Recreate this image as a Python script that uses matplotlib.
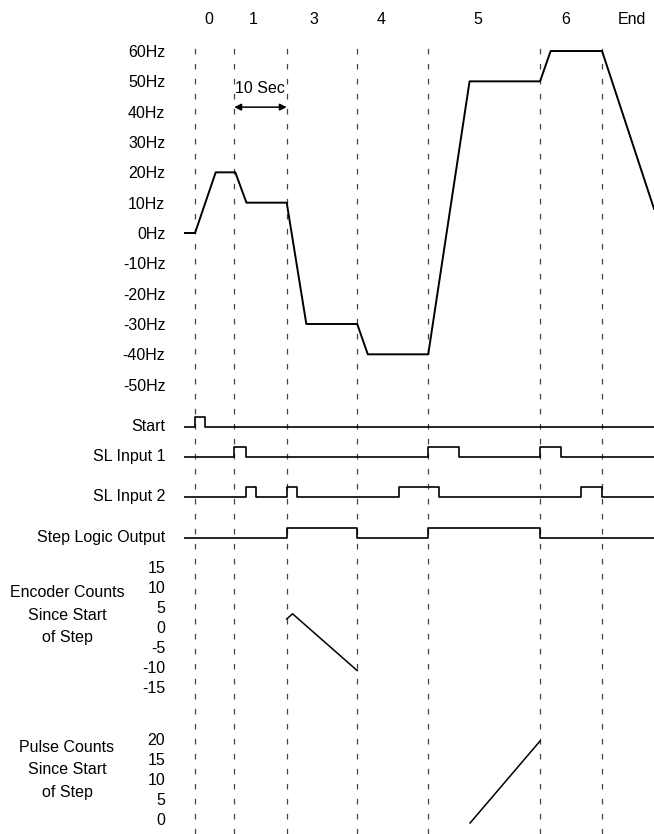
import numpy as np
import matplotlib
matplotlib.use("Agg")
import matplotlib.pyplot as plt

plt.rcParams['font.family'] = ['Liberation Sans Narrow', 'Liberation Sans', 'DejaVu Sans']
plt.rcParams['font.size'] = 11.5

# time in seconds, step boundaries
step_times = [0, 7.4, 17.3, 30.6, 44.0, 65.1, 76.8]
step_names = ['0', '1', '3', '4', '5', '6', 'End']
step_label_x = [2.6, 11.0, 22.5, 35.1, 53.4, 70.0, 82.5]

# commanded frequency
freq_t = [-2.1, 0, 3.9, 7.6, 9.7, 17.3, 21.0, 30.6, 32.6, 44.0, 51.8, 65.1, 67.1, 76.8, 86.6]
freq_hz = [0, 0, 20, 20, 10, 10, -30, -30, -40, -40, 50, 50, 60, 60, 8]
hz_ticks = [60, 50, 40, 30, 20, 10, 0, -10, -20, -30, -40, -50]

# digital signals: (on, off) intervals
sig_names = ['Start', 'SL Input 1', 'SL Input 2', 'Step Logic Output']
sig_pulses = [
    [(0, 1.9)],
    [(7.4, 9.6), (44.0, 49.9), (65.1, 69.0)],
    [(9.6, 11.5), (17.3, 19.2), (38.4, 46.0), (72.8, 76.8)],
    [(17.3, 30.6), (44.0, 65.1)],
]

# encoder counts since start of step
enc_t = [17.3, 18.4, 30.6]
enc_v = [2, 3.3, -10.9]
enc_ticks = [15, 10, 5, 0, -5, -10, -15]

# pulse counts since start of step
pul_t = [51.9, 65.1]
pul_v = [-1, 19.5]
pul_ticks = [20, 15, 10, 5, 0]

W, H = 654, 834
XL = (-2.08, 86.6)
fig = plt.figure(figsize=(W / 100, H / 100), dpi=100)


def add_ax(top, bottom, left=184, right=654):
    ax = fig.add_axes([left / W, 1 - bottom / H, (right - left) / W, (bottom - top) / H])
    ax.set_xlim(*XL)
    ax.patch.set_alpha(0)
    for s in ax.spines.values():
        s.set_visible(False)
    ax.set_xticks([])
    ax.tick_params(axis='y', length=0, pad=13.5, labelsize=11.5)
    return ax


# dashed step lines
ax_d = add_ax(40, 834)
ax_d.set_ylim(0, 1)
ax_d.set_yticks([])
for t in step_times:
    ax_d.axvline(t, color='#444444', lw=0.9, ls=(0, (4.5, 7.5)))

# frequency
ax_f = add_ax(40, 400)
ax_f.set_ylim((233 - 400) / 3.033, (233 - 40) / 3.033)
ax_f.plot(freq_t, freq_hz, color='black', lw=1.4)
ax_f.set_yticks(hz_ticks)
ax_f.set_yticklabels(['%dHz' % v for v in hz_ticks])
for x, name in zip(step_label_x, step_names):
    ax_f.text(x, 1.058, name, transform=ax_f.get_xaxis_transform(), ha='center', va='center')
ax_f.annotate('', xy=(step_times[1], 41.5), xytext=(step_times[2], 41.5),
              arrowprops=dict(arrowstyle='<|-|>', color='black', lw=1.1, mutation_scale=10,
                              shrinkA=0, shrinkB=0))
ax_f.text(12.3, 47.5, '10 Sec', ha='center', va='center')

# digital signals
baselines = [426.7, 456.7, 497.3, 538.3]
for name, pulses, b in zip(sig_names, sig_pulses, baselines):
    ax = add_ax(b - 20, b + 8)
    ax.set_ylim(-0.8, 2.0)
    xs = [XL[0]]
    ys = [0]
    for on, off in pulses:
        xs += [on, off]
        ys += [1, 0]
    xs.append(XL[1])
    ys.append(0)
    ax.plot(xs, ys, drawstyle='steps-post', color='black', lw=1.2)
    ax.set_yticks([0.2])
    ax.set_yticklabels([name])

# encoder counts
ax_e = add_ax(555, 700)
ax_e.set_ylim(-(700 - 627) / 4, (627 - 555) / 4)
ax_e.plot(enc_t, enc_v, color='black', lw=1.1)
ax_e.set_yticks(enc_ticks)
ax_e.set_yticklabels([str(v) for v in enc_ticks])
ax_e.set_ylabel('Encoder Counts\nSince Start\nof Step', rotation=0, ha='center', va='center',
                linespacing=1.6)
ax_e.yaxis.set_label_coords((67 - 184) / 470, (700 - 615) / 145)

# pulse counts
ax_p = add_ax(725, 834)
ax_p.set_ylim(-(834 - 819) / 4, (819 - 725) / 4)
ax_p.plot(pul_t, pul_v, color='black', lw=1.1)
ax_p.set_yticks(pul_ticks)
ax_p.set_yticklabels([str(v) for v in pul_ticks])
ax_p.set_ylabel('Pulse Counts\nSince Start\nof Step', rotation=0, ha='center', va='center',
                linespacing=1.6)
ax_p.yaxis.set_label_coords((67 - 184) / 470, (834 - 770) / 109)

fig.savefig('out.png', dpi=100)
